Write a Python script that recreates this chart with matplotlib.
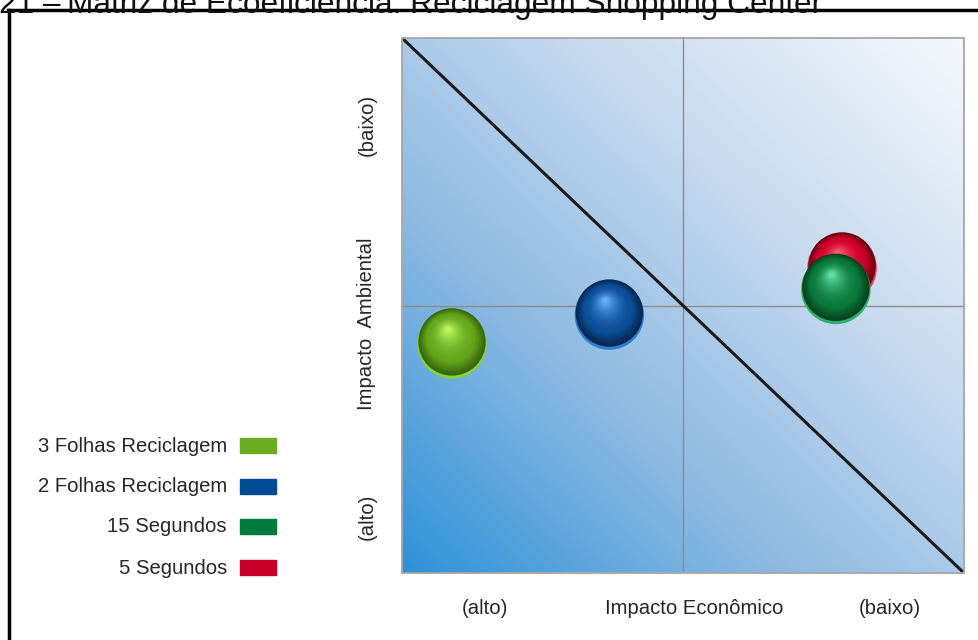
import numpy as np
import matplotlib
matplotlib.use("Agg")
import matplotlib.pyplot as plt
from matplotlib.colors import LinearSegmentedColormap, to_rgb
from matplotlib.lines import Line2D
from matplotlib.patches import Rectangle
from matplotlib.transforms import offset_copy

plt.rcParams['font.family'] = ['Liberation Sans', 'DejaVu Sans']

# ---- data ----
series = ["3 Folhas Reciclagem", "2 Folhas Reciclagem", "15 Segundos", "5 Segundos"]
x_econ = [8.9, 36.9, 77.2, 78.3]       # Impacto Econômico (0 = alto, 100 = baixo)
y_amb = [42.8, 48.2, 53.0, 57.0]       # Impacto Ambiental (0 = alto, 100 = baixo)
legend_colors = ["#6aab1f", "#004b96", "#007a3d", "#c8002a"]
sphere_rim = ["#86d23a", "#2f7fd0", "#2fae6a", "#ff3050"]
sphere_dark = ["#36650a", "#06264f", "#04401f", "#6a0010"]
sphere_mid = ["#64a51a", "#0b4f98", "#0a7a3c", "#d0002a"]
sphere_light = ["#b8f560", "#62aef5", "#62dca0", "#ff5a78"]
draw_order = [0, 1, 3, 2]  # red behind dark green

x_labels = ["(alto)", "Impacto Econômico", "(baixo)"]
y_labels = ["(alto)", "Impacto  Ambiental", "(baixo)"]

W, H = 979, 640
fig = plt.figure(figsize=(W / 100, H / 100), dpi=100)

def fx(px):
    return px / W

def fy(py):
    return 1 - py / H

ax = fig.add_axes([fx(402), fy(573), (964 - 402) / W, (573 - 38) / H])
ax.set_xlim(0, 100)
ax.set_ylim(0, 100)

# gradient background
cmap = LinearSegmentedColormap.from_list("bg", ["#2e92d7", "#8cb9e2", "#c9dbef", "#f5f8fc"])
gx, gy = np.meshgrid(np.linspace(0, 1, 300), np.linspace(0, 1, 300))
ax.imshow((gx + gy) / 2, extent=[0, 100, 0, 100], origin="lower", cmap=cmap,
          aspect="auto", zorder=0, interpolation="bilinear")

ax.axvline(50, color="#8c8c8c", lw=1.0, zorder=1)
ax.axhline(50, color="#8c8c8c", lw=1.0, zorder=1)
ax.plot([0, 100], [100, 0], color="#1a1a1a", lw=2.2, zorder=2, solid_capstyle="butt")

for s in ax.spines.values():
    s.set_color("#a6a6a6")
    s.set_linewidth(1.3)
ax.set_xticks([])
ax.set_yticks([])

# spheres
R = 25.0  # points
n = 30
for rank, i in enumerate(draw_order):
    z = 5 + rank
    rim = np.array(to_rgb(sphere_rim[i]))
    dark = np.array(to_rgb(sphere_dark[i]))
    mid = np.array(to_rgb(sphere_mid[i]))
    light = np.array(to_rgb(sphere_light[i]))
    ax.scatter([x_econ[i]], [y_amb[i]], s=(2 * R) ** 2, color=rim, zorder=z,
               edgecolors="none")
    tr0 = offset_copy(ax.transData, fig=fig, x=0, y=0.06 * R, units="points")
    ax.scatter([x_econ[i]], [y_amb[i]], s=(2 * R * 0.97) ** 2, color=dark, transform=tr0,
               zorder=z, edgecolors="none")
    for k in range(1, n + 1):
        t = k / n
        r = R * 0.97 * (1 - 0.92 * t)
        dx = -0.12 * R * t
        dy = 0.06 * R + 0.36 * R * t
        if t < 0.3:
            c = dark + (mid - dark) * (t / 0.3)
        else:
            c = mid + (light - mid) * ((t - 0.3) / 0.7) ** 1.8
        tr = offset_copy(ax.transData, fig=fig, x=dx, y=dy, units="points")
        ax.scatter([x_econ[i]], [y_amb[i]], s=(2 * r) ** 2, color=c, transform=tr,
                   zorder=z, edgecolors="none")

# axis labels
txtc = "#262626"
fs = 14.6
for lab, px in zip(x_labels, [485, 694, 890]):
    fig.text(fx(px), fy(609), lab, ha="center", va="center", fontsize=fs, color=txtc)
for lab, py in zip(y_labels, [517, 324, 125]):
    fig.text(fx(367), fy(py), lab, ha="center", va="center", fontsize=fs, color=txtc,
             rotation=90)

# legend
for lab, col, py in zip(series, legend_colors, [446, 487, 527, 568]):
    fig.text(fx(227), fy(py), lab, ha="right", va="center", fontsize=fs, color=txtc)
    fig.patches.append(Rectangle((fx(240), fy(py + 7)), fx(36), 15 / H, color=col,
                                 transform=fig.transFigure, figure=fig))

# outer frame and title (title is cut at the top edge, as in the reference)
fig.lines.append(Line2D([fx(8), 1.0], [fy(10), fy(10)], color="black", lw=2.5,
                        transform=fig.transFigure, figure=fig))
fig.lines.append(Line2D([fx(9), fx(9)], [fy(10), 0], color="black", lw=2.5,
                        transform=fig.transFigure, figure=fig))
fig.text(fx(-1), fy(13), "21 –", ha="left", va="baseline", fontsize=22.8, color="#111111")
fig.text(fx(67), fy(13), "Matriz de Ecoeficiência: Reciclagem Shopping Center",
         ha="left", va="baseline", fontsize=22.8, color="#111111")

fig.savefig("out.png", dpi=100, facecolor="white")
